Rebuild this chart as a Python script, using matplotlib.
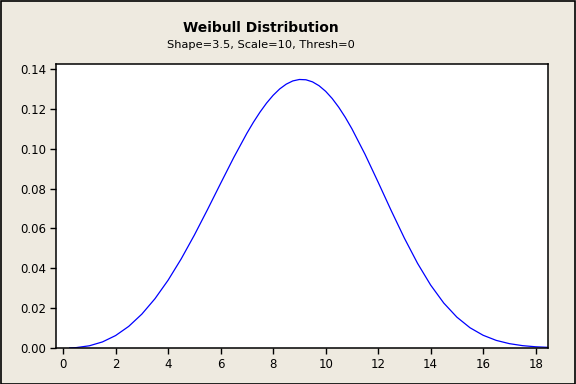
import matplotlib
matplotlib.use("Agg")
import matplotlib.pyplot as plt
from matplotlib.patches import Rectangle

# values (Weibull pdf, shape 3.5, scale 10)
x_vals = [0.25, 0.5, 1.0, 1.5, 2.0, 2.5, 3.0, 3.5, 4.0, 4.5, 5.0, 5.5, 6.0, 6.5,
          7.0, 7.25, 7.5, 7.75, 8.0, 8.25, 8.5, 8.75, 9.0, 9.25, 9.5, 9.75,
          10.0, 10.25, 10.5, 10.75, 11.0, 11.5, 12.0, 12.5,
          13.0, 13.5, 14.0, 14.5, 15.0, 15.5, 16.0, 16.5, 17.0, 17.5, 18.0, 18.47]
density = [0.00003, 0.00020, 0.00111, 0.00305, 0.00624, 0.01085, 0.01700, 0.02473,
           0.03401, 0.04473, 0.05664, 0.06941, 0.08256, 0.09554,
           0.10769, 0.11324, 0.11831, 0.12284, 0.12674, 0.12994, 0.13235, 0.13396,
           0.13468, 0.13454, 0.13349, 0.13155,
           0.12876, 0.12514, 0.12074, 0.11567, 0.10998, 0.09717, 0.08317, 0.06886,
           0.05509, 0.04249, 0.03157, 0.02254, 0.01546, 0.01015,
           0.00638, 0.00381, 0.00218, 0.00118, 0.00061, 0.00033]
x_ticks = [0, 2, 4, 6, 8, 10, 12, 14, 16, 18]
y_ticks = [0.00, 0.02, 0.04, 0.06, 0.08, 0.10, 0.12, 0.14]

bg = "#EEEAE0"
fig = plt.figure(figsize=(5.76, 3.84), dpi=100, facecolor=bg)
W, H = 576, 384
ax = fig.add_axes([56 / W, 1 - 348 / H, (548 - 56) / W, (348 - 63.5) / H])
ax.set_facecolor("white")

ax.plot(x_vals, density, color="#0000FF", lw=0.9)
ax.set_xlim(-0.27, 18.47)
ax.set_ylim(0, 0.1427)
ax.set_xticks(x_ticks)
ax.set_yticks(y_ticks)
ax.set_yticklabels([f"{v:.2f}" for v in y_ticks])
ax.tick_params(direction="out", length=4, width=1, color="black",
               labelsize=8.5, pad=3)
for s in ax.spines.values():
    s.set_linewidth(1.1)
    s.set_color("black")

fig.text(261 / W, 1 - 28 / H, "Weibull Distribution", ha="center", va="center",
         fontsize=10, fontweight="bold")
fig.text(261 / W, 1 - 44.5 / H, "Shape=3.5, Scale=10, Thresh=0", ha="center",
         va="center", fontsize=8.2)

fig.patches.append(Rectangle((0.5 / W, 0.5 / H), 1 - 1.5 / W, 1 - 1.5 / H,
                             transform=fig.transFigure, fill=False,
                             edgecolor="black", lw=1.2))

fig.savefig("out.png", dpi=100, facecolor=bg)
